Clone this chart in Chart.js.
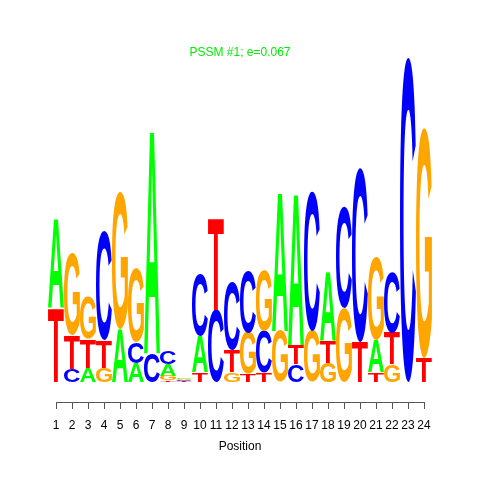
<!DOCTYPE html>
<html>
<head>
<meta charset="utf-8">
<script src="https://cdn.jsdelivr.net/npm/chart.js@4"></script>
<style>
  html, body { margin: 0; padding: 0; background: #fff; }
  #wrap { width: 480px; height: 480px; }
</style>
</head>
<body>
<div id="wrap"><canvas id="logoChart" width="480" height="480"></canvas></div>
<script>
// letter heights (bits) per position
const positions = ['1','2','3','4','5','6','7','8','9','10','11','12','13','14','15','16','17','18','19','20','21','22','23','24'];
const heightA = [0.56, 0, 0.09, 0, 0.33, 0.12, 1.40, 0.07, 0.009, 0.23, 0, 0, 0, 0, 0.87, 0.95, 0, 0.43, 0, 0, 0.20, 0, 0, 0];
const heightC = [0, 0.08, 0, 0.68, 0, 0.13, 0.18, 0.08, 0.006, 0.39, 0.45, 0.43, 0.39, 0.26, 0, 0.11, 0.87, 0, 0.63, 1.09, 0, 0.38, 2.03, 0];
const heightG = [0, 0.51, 0.26, 0.09, 0.86, 0.46, 0, 0.03, 0.011, 0, 0, 0.06, 0.26, 0.38, 0.32, 0, 0.32, 0.12, 0.46, 0, 0.52, 0.11, 0, 1.44];
const heightT = [0.46, 0.21, 0.18, 0.17, 0, 0, 0, 0.01, 0.004, 0.06, 0.58, 0.14, 0.05, 0.06, 0, 0.12, 0, 0.14, 0, 0.25, 0.06, 0.20, 0, 0.15];

const bases = ['A', 'C', 'G', 'T'];
const baseHeights = { A: heightA, C: heightC, G: heightG, T: heightT };
const baseColors = { A: '#00FF00', C: '#0000FF', G: '#FFA500', T: '#FF0000' };

// stack slots: smallest letter at the bottom of each column
const slots = [0, 1, 2, 3].map(() => ({ data: [], letters: [] }));
positions.forEach((p, i) => {
  const order = bases.slice().sort((a, b) => baseHeights[a][i] - baseHeights[b][i]);
  order.forEach((b, k) => {
    slots[k].data.push(baseHeights[b][i]);
    slots[k].letters.push(b);
  });
});

const FONT = '"Liberation Sans", Arial, Helvetica, sans-serif';

const logoLetters = {
  id: 'logoLetters',
  afterDatasetsDraw(chart) {
    const ctx = chart.ctx;
    ctx.save();
    ctx.font = 'bold 100px ' + FONT;
    ctx.textAlign = 'left';
    ctx.textBaseline = 'alphabetic';
    chart.data.datasets.forEach((ds, di) => {
      const meta = chart.getDatasetMeta(di);
      meta.data.forEach((el, i) => {
        const v = ds.data[i];
        if (!v) return;
        const { x, y, base, width } = el.getProps(['x', 'y', 'base', 'width'], true);
        const h = base - y;
        if (h <= 0) return;
        const letter = ds.letters[i];
        const m = ctx.measureText(letter);
        const gw = m.actualBoundingBoxLeft + m.actualBoundingBoxRight;
        const gh = m.actualBoundingBoxAscent + m.actualBoundingBoxDescent;
        ctx.save();
        ctx.translate(x - width / 2, y);
        ctx.scale(width / gw, h / gh);
        ctx.fillStyle = baseColors[letter];
        ctx.fillText(letter, m.actualBoundingBoxLeft, m.actualBoundingBoxAscent);
        ctx.restore();
      });
    });
    ctx.restore();
  }
};

// R style axis below the plot
const positionAxis = {
  id: 'positionAxis',
  afterDraw(chart) {
    const ctx = chart.ctx;
    const xs = chart.scales.x;
    const x0 = xs.getPixelForValue(0);
    const x1 = xs.getPixelForValue(positions.length - 1);
    const yLine = chart.chartArea.bottom + 20;
    ctx.save();
    ctx.strokeStyle = '#555';
    ctx.lineWidth = 1;
    ctx.beginPath();
    ctx.moveTo(x0, yLine + 0.5);
    ctx.lineTo(x1, yLine + 0.5);
    positions.forEach((p, i) => {
      const px = Math.round(xs.getPixelForValue(i)) + 0.5;
      ctx.moveTo(px, yLine);
      ctx.lineTo(px, yLine + 7);
    });
    ctx.stroke();
    ctx.fillStyle = '#000';
    ctx.font = '12px ' + FONT;
    ctx.textAlign = 'center';
    ctx.textBaseline = 'middle';
    positions.forEach((p, i) => {
      ctx.fillText(p, xs.getPixelForValue(i), yLine + 24);
    });
    ctx.fillText('Position', (x0 + x1) / 2, yLine + 45);
    ctx.fillStyle = '#00EE00';
    ctx.fillText('PSSM #1; e=0.067', 240, 53);
    ctx.restore();
  }
};

new Chart(document.getElementById('logoChart'), {
  type: 'bar',
  data: {
    labels: positions,
    datasets: slots.map((s, k) => ({
      label: 'slot ' + (k + 1),
      data: s.data,
      letters: s.letters,
      backgroundColor: 'rgba(0,0,0,0)',
      borderWidth: 0,
      categoryPercentage: 1,
      barPercentage: 1
    }))
  },
  options: {
    responsive: false,
    animation: false,
    layout: { padding: { left: 48, right: 48, top: 46, bottom: 98 } },
    scales: {
      x: { stacked: true, display: false },
      y: { stacked: true, display: false, min: 0, max: 2.1 }
    },
    plugins: {
      legend: { display: false },
      tooltip: { enabled: false },
      title: { display: false }
    }
  },
  plugins: [logoLetters, positionAxis]
});
</script>
</body>
</html>
